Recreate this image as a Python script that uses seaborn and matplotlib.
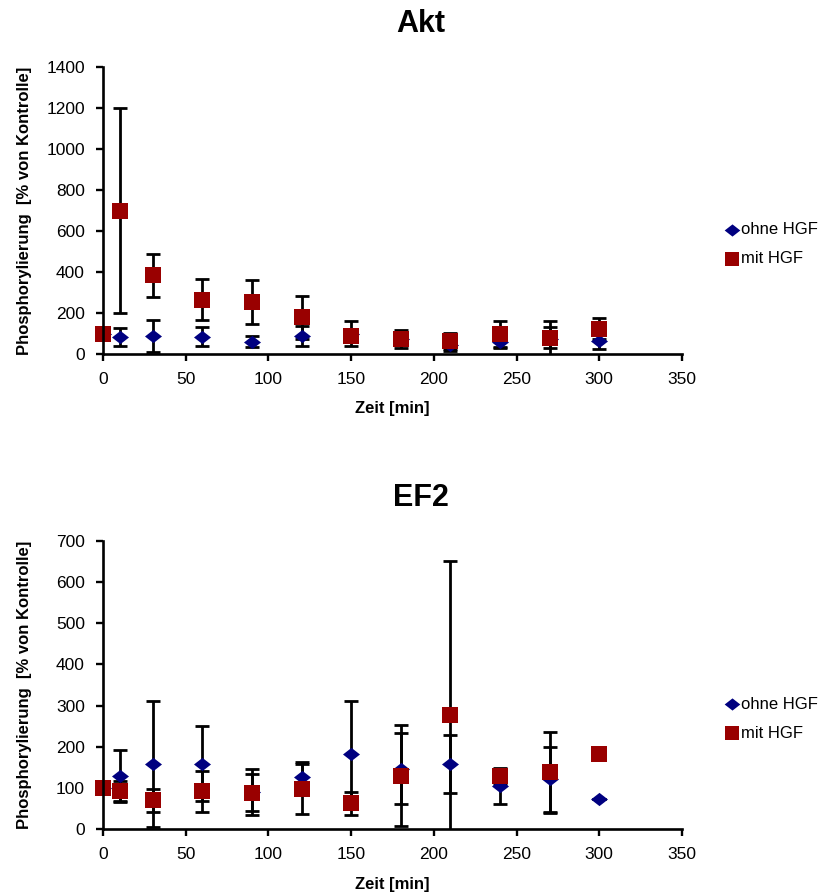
import matplotlib
matplotlib.use("Agg")
import matplotlib.pyplot as plt
import seaborn as sns
import pandas as pd

# --- DATEN ---
zeit = [0, 10, 30, 60, 90, 120, 150, 180, 210, 240, 270, 300]

akt_ohne = [100, 81, 88, 85, 60, 88, 100, 72, 45, 60, 75, 65]
akt_ohne_err = [0, 44, 78, 45, 27, 50, 61, 20, 30, 25, 86, 42]
akt_mit = [100, 700, 385, 265, 252, 179, 88, 72, 65, 97, 80, 124]
akt_mit_err = [0, 500, 105, 100, 108, 104, 20, 45, 39, 66, 53, 50]

ef2_ohne = [100, 129, 158, 159, 90, 127, 182, 147, 158, 104, 121, 74]
ef2_ohne_err = [0, 64, 153, 91, 55, 35, 129, 86, 70, 43, 79, 0]
ef2_mit = [100, 92, 70, 92, 88, 97, 62, 130, 277, 129, 138, 182]
ef2_mit_err = [0, 25, 28, 50, 45, 61, 28, 122, 374, 20, 98, 0]

serien = ["ohne HGF", "mit HGF"]
farben = {"ohne HGF": "#000080", "mit HGF": "#990000"}
raute = [(-1, 0), (0, 0.78), (1, 0), (0, -0.78)]
marker = {"ohne HGF": raute, "mit HGF": "s"}
groesse = {"ohne HGF": 150, "mit HGF": 120}

sns.set_style("white")
plt.rcParams["font.family"] = ["Liberation Sans", "DejaVu Sans"]
for k in ["text.color", "axes.labelcolor", "xtick.color", "ytick.color"]:
    plt.rcParams[k] = "black"

fig = plt.figure(figsize=(8.3, 8.94), dpi=100)
ax1 = fig.add_axes([103 / 830, 1 - 354 / 894, 579 / 830, 287 / 894])
ax2 = fig.add_axes([103 / 830, 1 - 829 / 894, 579 / 830, 288 / 894])


def zeichne(ax, werte, ymax, ystep, titel, titel_y):
    for name in serien:
        y, err = werte[name]
        df = pd.DataFrame({"Zeit": zeit, "Wert": y, "Fehler": err})
        ax.errorbar(df["Zeit"], df["Wert"], yerr=df["Fehler"], fmt="none",
                    ecolor="black", elinewidth=2, capsize=5, capthick=2, zorder=2)
        sns.scatterplot(data=df, x="Zeit", y="Wert", marker=marker[name],
                        color=farben[name], s=groesse[name], linewidth=0,
                        label=name, ax=ax, zorder=3, clip_on=False)

    ax.set_xlim(0, 350)
    ax.set_ylim(0, ymax)
    ax.set_xticks(range(0, 351, 50))
    ax.set_yticks(range(0, ymax + 1, ystep))
    for s in ["top", "right"]:
        ax.spines[s].set_visible(False)
    for s in ["left", "bottom"]:
        ax.spines[s].set_linewidth(1.9)
        ax.spines[s].set_color("black")
        ax.spines[s].set_zorder(4)
    ax.tick_params(direction="out", length=5, width=1.7, pad=8,
                   labelsize=12.5, color="black", left=True, bottom=True)

    ax.set_xlabel("Zeit [min]", fontsize=12, fontweight="bold")
    ax.set_ylabel("Phosphorylierung  [% von Kontrolle]", fontsize=12, fontweight="bold")
    ax.xaxis.set_label_coords(0.5, -0.165)
    ax.yaxis.set_label_coords(-0.123, 0.5)

    ax.legend(loc="center left", bbox_to_anchor=(1.074, 0.383), frameon=False,
              fontsize=12, markerscale=0.92, handlelength=0.8, handletextpad=0.15,
              labelspacing=0.85, borderpad=0, borderaxespad=0)

    fig.text(0.507, titel_y, titel, ha="center", va="center",
             fontsize=22, fontweight="bold")


zeichne(ax1, {"ohne HGF": (akt_ohne, akt_ohne_err), "mit HGF": (akt_mit, akt_mit_err)},
        1400, 200, "Akt", 1 - 24 / 894)
zeichne(ax2, {"ohne HGF": (ef2_ohne, ef2_ohne_err), "mit HGF": (ef2_mit, ef2_mit_err)},
        700, 100, "EF2", 1 - 498 / 894)

fig.savefig("out.png", dpi=100)
